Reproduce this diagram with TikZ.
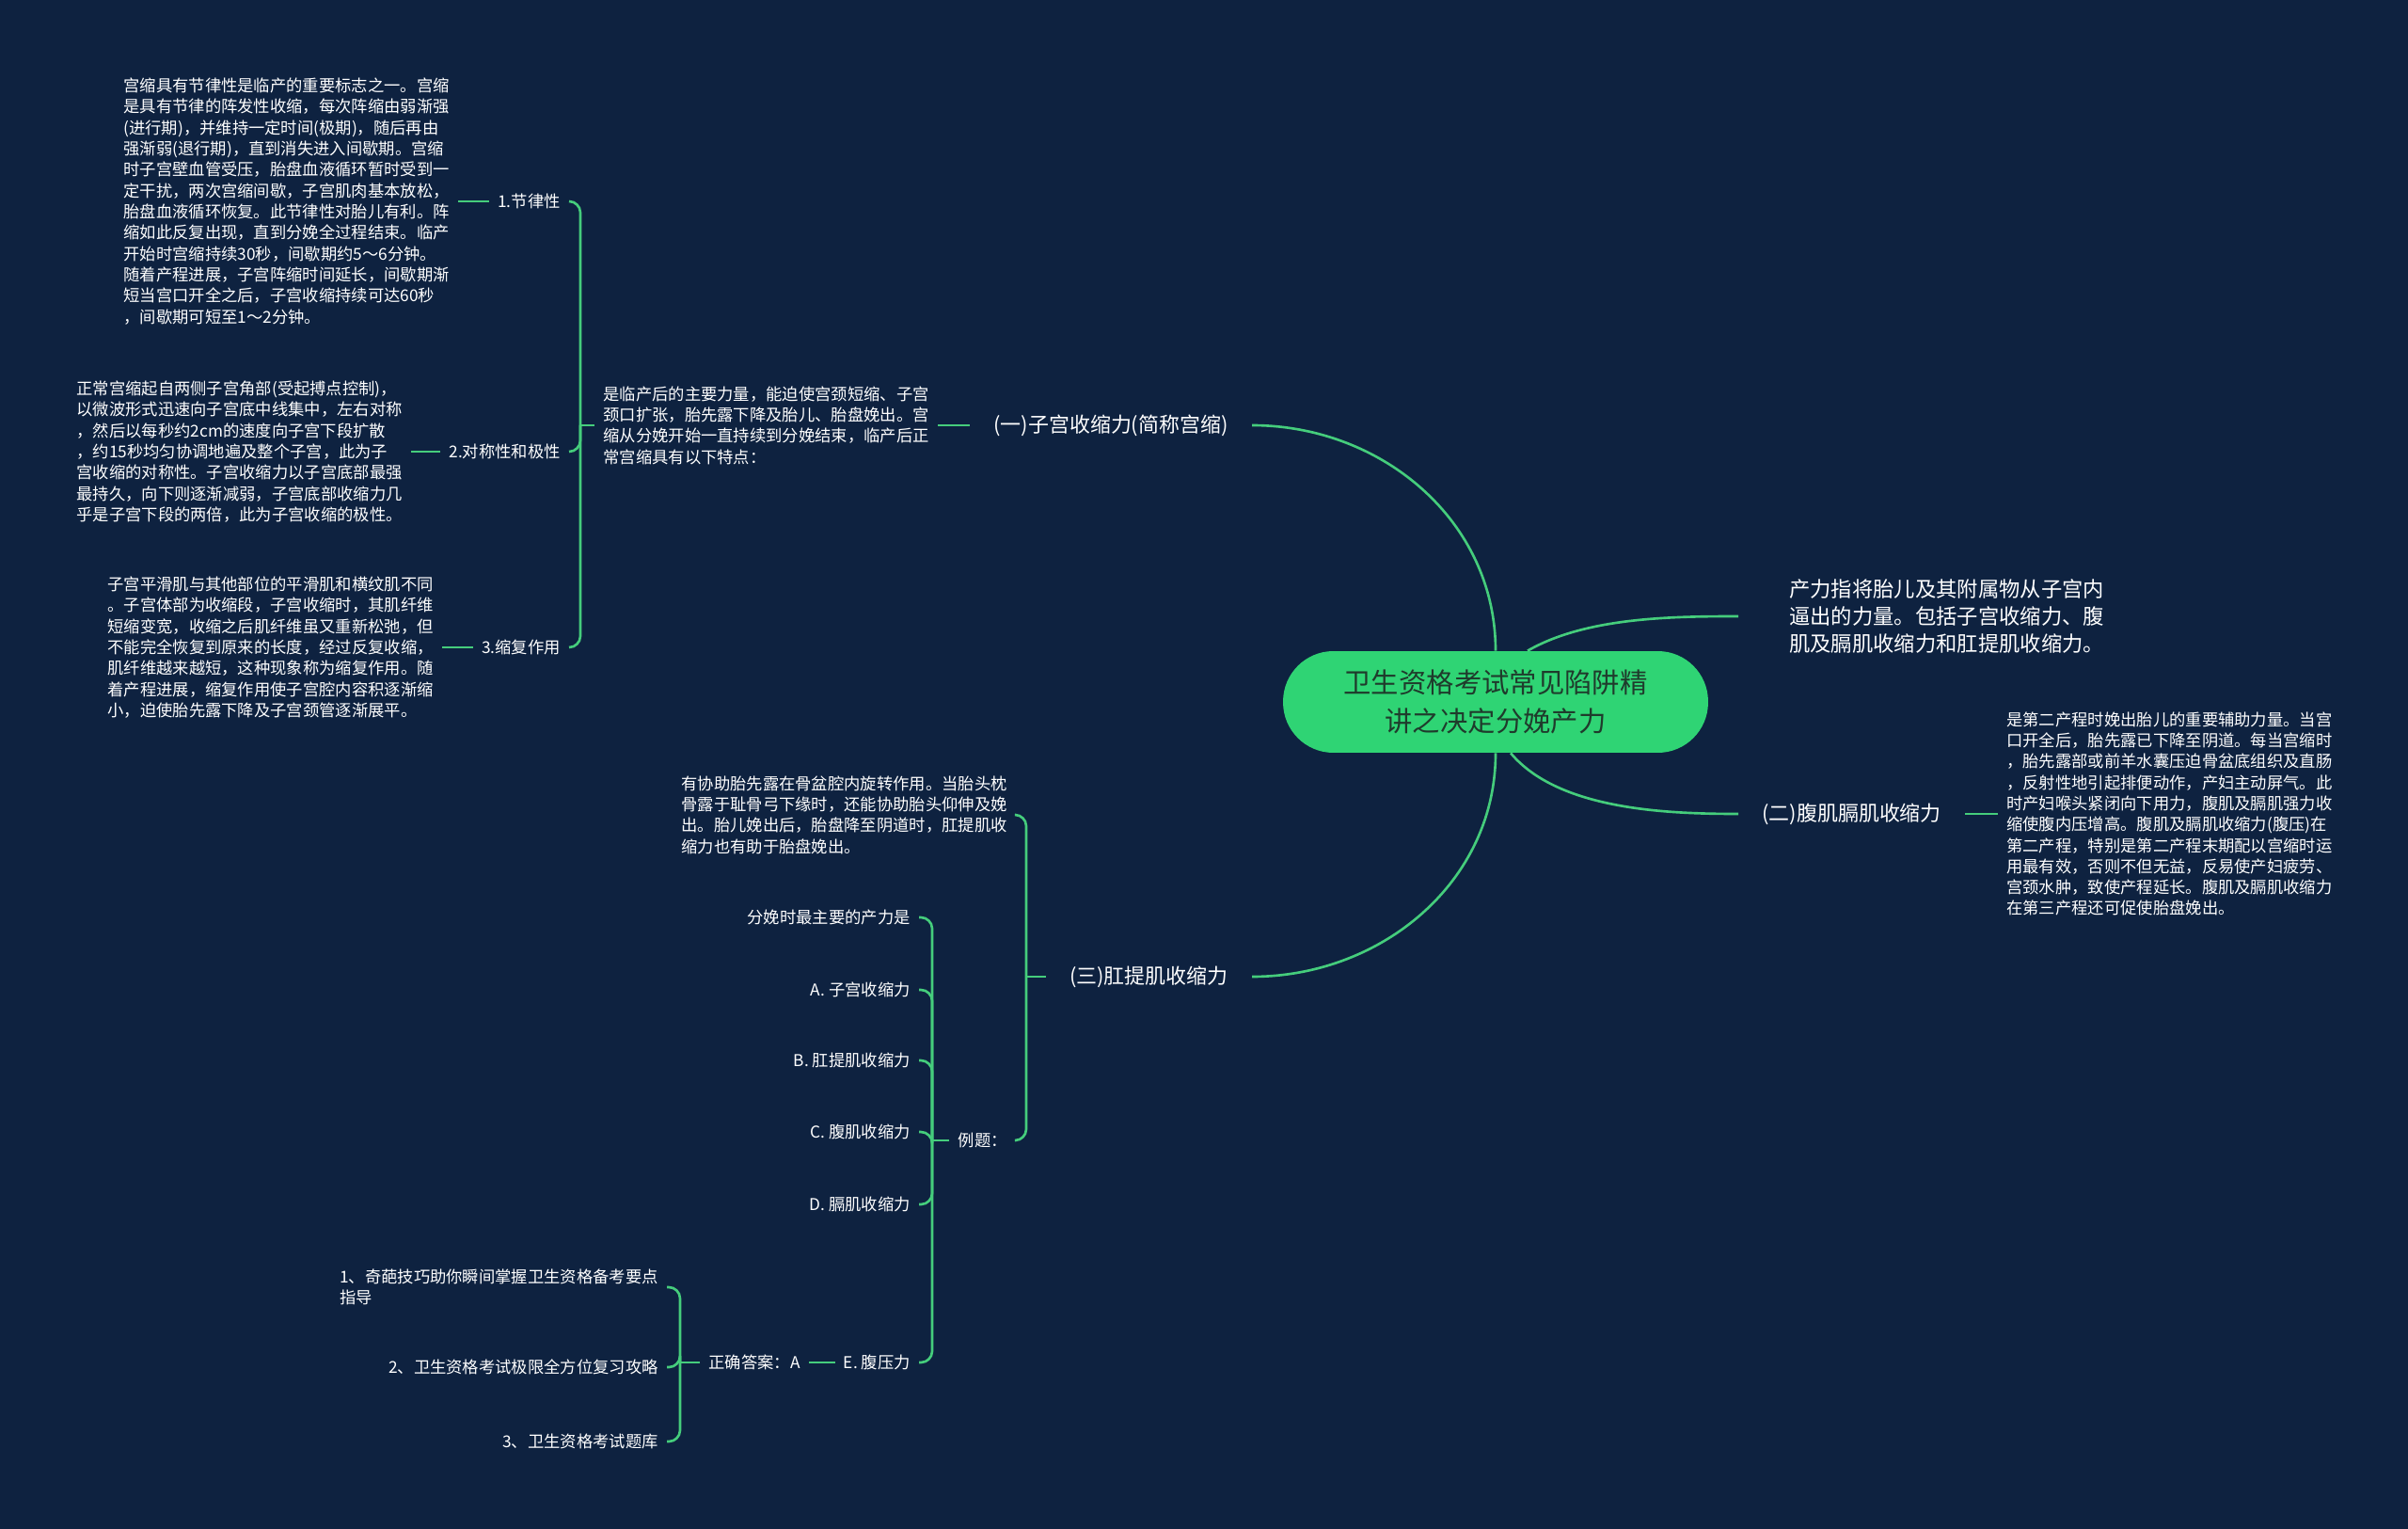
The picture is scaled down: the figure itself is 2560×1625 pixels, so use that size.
\documentclass[tikz,border=0pt]{standalone}
\usepackage{fontspec}
\setmainfont{Noto Sans CJK SC}
\usetikzlibrary{positioning, calc}
\definecolor{navy}{HTML}{0E2240}
\definecolor{leaf}{HTML}{45CD7C}
\definecolor{pill}{HTML}{2FD474}
\definecolor{pilltext}{HTML}{1F3B2C}

\tikzset{
  topic/.style={text=white, font=\fontsize{12.5}{15}\selectfont, inner xsep=0.5cm, inner ysep=0pt},
  note/.style={text=white, font=\fontsize{9.85}{12.7}\selectfont, align=left, inner xsep=0.18cm, inner ysep=0pt},
  link/.style={leaf, line width=1.5pt, rounded corners=0.24cm},
}

\begin{document}
\begin{tikzpicture}[x=0.02cm, y=-0.02cm]

% Background
\fill[navy] (0,0) rectangle (2560,1625);

% Root
\node[fill=pill, text=pilltext, rounded corners=1.07cm, minimum width=9.04cm, minimum height=2.16cm,
      align=center, font=\fontsize{16.7}{23.3}\selectfont] (root) at (1590,746)
      {卫生资格考试常见陷阱精\\讲之决定分娩产力};

% (一) branch
\node[topic, anchor=east] (c1) at (1331,452) {(一)子宫收缩力(简称宫缩)};
\draw[link] (root.north) to[out=90, in=0] (c1.east);

\node[note, anchor=east] (d1) at (997,452) {是临产后的主要力量，能迫使宫颈短缩、子宫\\颈口扩张，胎先露下降及胎儿、胎盘娩出。宫\\缩从分娩开始一直持续到分娩结束，临产后正\\常宫缩具有以下特点：};
\draw[link] (c1.west) -- (d1.east);

\coordinate (j1) at (617,452);
\draw[link] (d1.west) -- (j1);

\node[note, anchor=east] (l1) at (605,214) {1.节律性};
\node[note, anchor=east] (l2) at (605,480) {2.对称性和极性};
\node[note, anchor=east] (l3) at (605,688) {3.缩复作用};
\draw[link] (j1) |- (l1.east);
\draw[link] (j1) |- (l2.east);
\draw[link] (j1) |- (l3.east);

\node[note, anchor=east] (t1) at (487,214) {宫缩具有节律性是临产的重要标志之一。宫缩\\是具有节律的阵发性收缩，每次阵缩由弱渐强\\(进行期)，并维持一定时间(极期)，随后再由\\强渐弱(退行期)，直到消失进入间歇期。宫缩\\时子宫壁血管受压，胎盘血液循环暂时受到一\\定干扰，两次宫缩间歇，子宫肌肉基本放松，\\胎盘血液循环恢复。此节律性对胎儿有利。阵\\缩如此反复出现，直到分娩全过程结束。临产\\开始时宫缩持续30秒，间歇期约5～6分钟。\\随着产程进展，子宫阵缩时间延长，间歇期渐\\短当宫口开全之后，子宫收缩持续可达60秒\\，间歇期可短至1～2分钟。};
\node[note, anchor=east] (t2) at (437,480) {正常宫缩起自两侧子宫角部(受起搏点控制)，\\以微波形式迅速向子宫底中线集中，左右对称\\，然后以每秒约2cm的速度向子宫下段扩散\\，约15秒均匀协调地遍及整个子宫，此为子\\宫收缩的对称性。子宫收缩力以子宫底部最强\\最持久，向下则逐渐减弱，子宫底部收缩力几\\乎是子宫下段的两倍，此为子宫收缩的极性。};
\node[note, anchor=east] (t3) at (470,688) {子宫平滑肌与其他部位的平滑肌和横纹肌不同\\。子宫体部为收缩段，子宫收缩时，其肌纤维\\短缩变宽，收缩之后肌纤维虽又重新松弛，但\\不能完全恢复到原来的长度，经过反复收缩，\\肌纤维越来越短，这种现象称为缩复作用。随\\着产程进展，缩复作用使子宫腔内容积逐渐缩\\小，迫使胎先露下降及子宫颈管逐渐展平。};
\draw[link] (l1.west) -- (t1.east);
\draw[link] (l2.west) -- (t2.east);
\draw[link] (l3.west) -- (t3.east);

% (三) branch
\node[topic, anchor=east] (c3) at (1331,1038) {(三)肛提肌收缩力};
\draw[link] (root.south) to[out=-90, in=0] (c3.east);

\coordinate (j3) at (1091,1038);
\draw[link] (c3.west) -- (j3);

\node[note, anchor=east] (d3) at (1080,866) {有协助胎先露在骨盆腔内旋转作用。当胎头枕\\骨露于耻骨弓下缘时，还能协助胎头仰伸及娩\\出。胎儿娩出后，胎盘降至阴道时，肛提肌收\\缩力也有助于胎盘娩出。};
\node[note, anchor=east] (ex) at (1080,1212) {例题：};
\draw[link] (j3) |- (d3.east);
\draw[link] (j3) |- (ex.east);

\coordinate (j4) at (991,1212);
\draw[link] (ex.west) -- (j4);

\node[note, anchor=east] (q) at (977,975) {分娩时最主要的产力是};
\node[note, anchor=east] (oa) at (977,1052) {A. 子宫收缩力};
\node[note, anchor=east] (ob) at (977,1127) {B. 肛提肌收缩力};
\node[note, anchor=east] (oc) at (977,1203) {C. 腹肌收缩力};
\node[note, anchor=east] (od) at (977,1280) {D. 膈肌收缩力};
\node[note, anchor=east] (oe) at (977,1448) {E. 腹压力};
\foreach \n in {q, oa, ob, oc, od, oe}
  \draw[link] (j4) |- (\n.east);

\node[note, anchor=east] (ans) at (860,1448) {正确答案：A};
\draw[link] (oe.west) -- (ans.east);

\coordinate (j5) at (723,1448);
\draw[link] (ans.west) -- (j5);

\node[note, anchor=east] (k1) at (709,1368) {1、奇葩技巧助你瞬间掌握卫生资格备考要点\\指导};
\node[note, anchor=east] (k2) at (709,1453) {2、卫生资格考试极限全方位复习攻略};
\node[note, anchor=east] (k3) at (709,1532) {3、卫生资格考试题库};
\foreach \n in {k1, k2, k3}
  \draw[link] (j5) |- (\n.east);

% Right side
\node[topic, anchor=west, inner xsep=1.08cm, align=left, font=\fontsize{12.7}{16.5}\selectfont] (tr) at (1848,655) {产力指将胎儿及其附属物从子宫内\\逼出的力量。包括子宫收缩力、腹\\肌及膈肌收缩力和肛提肌收缩力。};
\draw[link] ([xshift=0.68cm]root.north) to[out=30, in=180, looseness=0.8] (tr.west);

\node[topic, anchor=west] (c2) at (1848,865) {(二)腹肌膈肌收缩力};
\draw[link] ([xshift=0.32cm]root.south) to[out=-50, in=180, looseness=0.8] (c2.west);

\node[note, anchor=west] (d2) at (2124,865) {是第二产程时娩出胎儿的重要辅助力量。当宫\\口开全后，胎先露已下降至阴道。每当宫缩时\\，胎先露部或前羊水囊压迫骨盆底组织及直肠\\，反射性地引起排便动作，产妇主动屏气。此\\时产妇喉头紧闭向下用力，腹肌及膈肌强力收\\缩使腹内压增高。腹肌及膈肌收缩力(腹压)在\\第二产程，特别是第二产程末期配以宫缩时运\\用最有效，否则不但无益，反易使产妇疲劳、\\宫颈水肿，致使产程延长。腹肌及膈肌收缩力\\在第三产程还可促使胎盘娩出。};
\draw[link] (c2.east) -- (d2.west);

\end{tikzpicture}
\end{document}
